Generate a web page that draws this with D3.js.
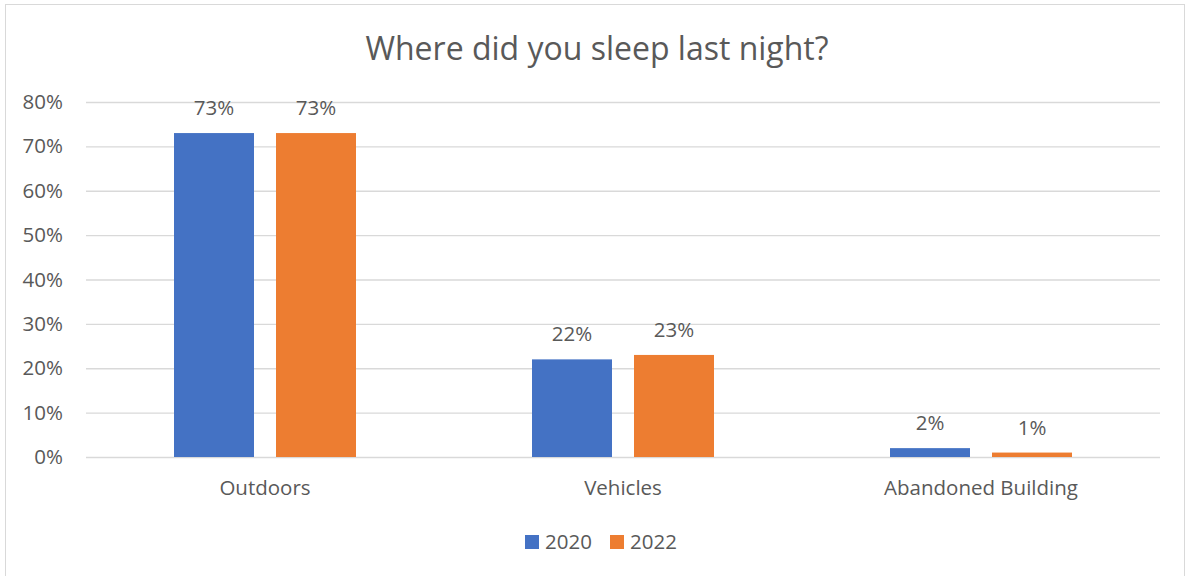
<!DOCTYPE html>
<html><head><meta charset="utf-8">
<script src="https://cdn.jsdelivr.net/npm/d3@7"></script>
<style>body{margin:0;background:#fff;} text{font-family:"Open Sans",sans-serif;fill:#595959;}</style>
</head><body><svg id="c" width="1189" height="576"></svg>
<script>
const categories = ["Outdoors", "Vehicles", "Abandoned Building"];
const seriesNames = ["2020", "2022"];
const values2020 = [0.73, 0.22, 0.02];
const values2022 = [0.73, 0.23, 0.01];
const yTicks = [0, 0.1, 0.2, 0.3, 0.4, 0.5, 0.6, 0.7, 0.8];
const colors = ["#4472C4", "#ED7D31"];
const title = "Where did you sleep last night?";

const svg = d3.select("#c");
svg.append("rect").attr("x",5.5).attr("y",4.5).attr("width",1179).attr("height",580).attr("fill","#fff").attr("stroke","#d9d9d9");

const x0 = d3.scaleBand().domain(categories).range([86,1160]).paddingInner(0).paddingOuter(0);
const half = x0.bandwidth()/2;
const x1 = d3.scaleBand().domain(seriesNames).range([half-91, half+91]).paddingInner(22/102).paddingOuter(0);
const y = d3.scaleLinear().domain([0,0.8]).range([457,102]);

const yAxis = d3.axisLeft(y).tickValues(yTicks).tickFormat(d3.format(".0%")).tickSize(-(1160-86)).tickPadding(23);
const g = svg.append("g").attr("transform","translate(86,0)").call(yAxis);
g.select(".domain").remove();
g.selectAll(".tick line").attr("stroke","#d9d9d9").attr("stroke-width",1.3);
g.selectAll(".tick text").attr("font-size",20.5).attr("fill","#595959").attr("font-family","Open Sans");

const xAxis = d3.axisBottom(x0).tickSize(0);
const gx = svg.append("g").attr("transform","translate(0,457)").call(xAxis);
gx.select(".domain").remove();
gx.selectAll(".tick text").attr("y",38).attr("dy",0).attr("font-size",20.5).attr("fill","#595959").attr("font-family","Open Sans");

const data = categories.map((c,i)=>({cat:c, vals:[{s:"2020",v:values2020[i]},{s:"2022",v:values2022[i]}]}));
const cg = svg.selectAll(".cat").data(data).enter().append("g").attr("transform",d=>`translate(${x0(d.cat)},0)`);
cg.selectAll("rect").data(d=>d.vals).enter().append("rect")
  .attr("x",d=>x1(d.s)).attr("width",x1.bandwidth())
  .attr("y",d=>y(d.v)).attr("height",d=>y(0)-y(d.v))
  .attr("fill",(d,i)=>colors[i]);
cg.selectAll("text.lbl").data(d=>d.vals).enter().append("text").attr("class","lbl")
  .attr("x",d=>x1(d.s)+x1.bandwidth()/2).attr("y",d=>y(d.v)-18)
  .attr("text-anchor","middle").attr("font-size",20.5).text(d=>d3.format(".0%")(d.v));

svg.append("text").attr("x",597).attr("y",60).attr("text-anchor","middle").attr("font-size",32).text(title);

const lg = svg.append("g");
const legendX = [525, 610];
seriesNames.forEach((s,i)=>{
  lg.append("rect").attr("x",legendX[i]).attr("y",535).attr("width",14).attr("height",14).attr("fill",colors[i]);
  lg.append("text").attr("x",legendX[i]+20).attr("y",549).attr("font-size",20.5).text(s);
});
</script></body></html>
